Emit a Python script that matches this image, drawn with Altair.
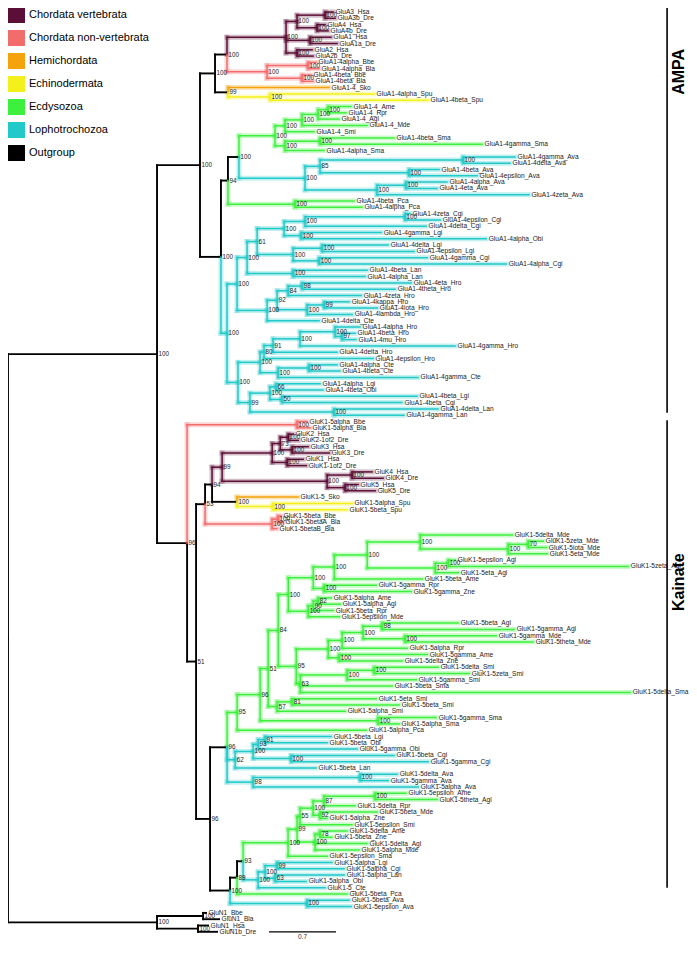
import re
import altair as alt
import pandas as pd

# ---------------- tree data: Newick pieces (branch lengths in substitutions/site, node labels = bootstrap) ----
AMPA_CHORDATA = ("((((GluA3_Hsa:0.084,GluA3b_Dre:0.105)100:0.293,(GluA4_Hsa:0.084,GluA4b_Dre:0.115)100:0.209)100:0.115,"
                 "(GluA1_Hsa:0.219,GluA1a_Dre:0.282)100:0.251,(GluA2_Hsa:0.157,GluA2b_Dre:0.167)100:0.115)100:0.617,"
                 "((GluA1-4alpha_Bbe:0.084,GluA1-4alpha_Bla:0.115)100:0.428,(GluA1-4beta_Bbe:0.094,GluA1-4beta_Bla:0.115)100:0.366)100:0.418)100:0.125")
AMPA_AMBULACRARIA = "(GluA1-4_Sko:1.055,(GluA1-4alpha_Spu:1.087,GluA1-4beta_Spu:1.651)100:0.439)99:0.136"
AMPA_ECDY = ("(((((GluA1-4_Ame:0.240,GluA1-4_Rpr:0.188)100:0.105,GluA1-4_Agl:0.219)100:0.167,GluA1-4_Mde:0.679)100:0.178,GluA1-4_Smi:0.303)100:0.105,"
             "((GluA1-4beta_Sma:0.773,GluA1-4gamma_Sma:1.693)100:0.366,GluA1-4alpha_Sma:0.408)100:0.105)100:0.376")
AMPA_AVA = ("(((GluA1-4gamma_Ava:0.543,GluA1-4delta_Ava:0.491)100:1.494,(GluA1-4beta_Ava:0.314,GluA1-4epsilon_Ava:0.711)100:0.930)85:0.157,"
            "((GluA1-4alpha_Ava:0.428,GluA1-4eta_Ava:0.324)100:0.303,GluA1-4zeta_Ava:1.588)100:0.752)100:0.690")
AMPA_PCA = "(GluA1-4beta_Pca:0.617,GluA1-4alpha_Pca:0.700)100:0.700"
AMPA_LOPHO_A = ("((((((GluA1-4zeta_Cgi:0.052,GluA1-4epsilon_Cgi:0.366)100:1.045,GluA1-4delta_Cgi:1.264)100:0.219,"
                "(GluA1-4gamma_Lgi:0.836,GluA1-4alpha_Obi:1.933)100:0.178)100:0.282,"
                "((GluA1-4delta_Lgi:0.690,GluA1-4epsilon_Lgi:0.961)100:0.303,(GluA1-4gamma_Cgi:1.129,GluA1-4alpha_Cgi:1.954)100:0.272)100:0.376)61:0.105,"
                "(GluA1-4beta_Lan:0.773,GluA1-4alpha_Lan:0.752)100:0.481)100:0.105,"
                "((((GluA1-4eta_Hro:1.139,GluA1-4theta_Hro:0.972)98:0.146,GluA1-4zeta_Hro:0.763)84:0.115,"
                "((GluA1-4kappa_Hro:0.261,GluA1-4iota_Hro:0.554)99:0.178,GluA1-4lambda_Hro:0.470)100:0.314)92:0.105,GluA1-4delta_Cte:0.543)100:0.314)100:0.105")
AMPA_LOPHO_B = ("((((((GluA1-4alpha_Hro:0.261,(GluA1-4beta_Hro:0.136,GluA1-4mu_Hro:0.146)97:0.073)100:0.366,GluA1-4gamma_Hro:1.620)100:0.282,"
                "GluA1-4delta_Hro:0.669)91:0.094,GluA1-4epsilon_Hro:1.139)80:0.042,"
                "((GluA1-4alpha_Cte:0.293,GluA1-4beta_Cte:0.324)100:0.324,GluA1-4gamma_Cte:1.463)100:0.188)100:0.230,"
                "(((GluA1-4alpha_Lgi:0.460,GluA1-4beta_Obi:0.491)66:0.063,(GluA1-4beta_Lgi:1.411,GluA1-4beta_Cgi:1.254)50:0.125)100:0.209,"
                "(GluA1-4delta_Lan:1.087,GluA1-4gamma_Lan:0.731)100:0.878)99:0.125)100:0.115")

KAIN_AMPHI_A = "(GluK1-5alpha_Bbe:0.105,GluK1-5alpha_Bla:0.136)100:1.149"
KAIN_VERT = ("((((GluK2_Hsa:0.052,GluK2-1of2_Dre:0.105)100:0.084,(GluK3_Hsa:0.167,GluK3_Dre:0.387)100:0.125)73:0.084,"
             "(GluK1_Hsa:0.167,GluK1-1of2_Dre:0.199)100:0.157)100:0.523,"
             "((GluK4_Hsa:0.209,GluK4_Dre:0.324)100:0.261,(GluK5_Hsa:0.136,GluK5_Dre:0.314)100:0.188)100:1.097)99:0.105")
KAIN_AMBULACRARIA = "(GluK1-5_Sko:0.637,(GluK1-5alpha_Spu:0.826,GluK1-5beta_Spu:0.773)100:0.376)100:0.261"
KAIN_AMPHI_B = "((GluK1-5beta_Bbe:0.031,GluK1-5betaA_Bla:0.052)100:0.063,GluK1-5betaB_Bla:0.052)100:0.700"
KAIN_ECDY_A = ("((((GluK1-5delta_Mde:0.961,((GluK1-5zeta_Mde:0.157,GluK1-5iota_Mde:0.188)70:0.209,GluK1-5eta_Mde:0.408)100:0.920)100:0.554,"
               "((GluK1-5epsilon_Agl:0.073,GluK1-5zeta_Agl:1.881)100:0.136,GluK1-5eta_Agl:0.240)100:0.711)100:0.345,GluK1-5beta_Ame:0.920)100:0.219,"
               "(GluK1-5gamma_Rpr:0.543,GluK1-5gamma_Zne:0.909)100:0.115)100:0.261")
KAIN_ECDY_B = "(((GluK1-5alpha_Ame:0.136,GluK1-5alpha_Agl:0.230)82:0.052,GluK1-5beta_Rpr:0.209)90:0.052,GluK1-5epsilon_Mde:0.324)100:0.209"
KAIN_ECDY_C = ("(((((GluK1-5beta_Agl:0.794,GluK1-5gamma_Agl:1.379)98:0.199,(GluK1-5gamma_Mde:0.951,GluK1-5theta_Mde:1.338)100:0.439)100:0.219,"
               "GluK1-5alpha_Rpr:0.679)100:0.146,(GluK1-5gamma_Ame:0.920,GluK1-5delta_Zne:0.658)100:0.115)100:0.334,"
               "(((GluK1-5delta_Smi:0.669,GluK1-5zeta_Smi:0.993)100:0.282,GluK1-5gamma_Smi:0.721)100:0.491,"
               "GluK1-5beta_Sma:0.961,GluK1-5delta_Sma:3.448)63:0.042)95:0.188")
KAIN_ECDY_D = "((GluK1-5eta_Smi:0.878,GluK1-5beta_Smi:1.118)81:0.157,GluK1-5alpha_Smi:0.711)57:0.094"
KAIN_ECDY_E = "(GluK1-5gamma_Sma:0.606,GluK1-5alpha_Sma:0.219)100:1.233"
KAIN_LOPHO_A = ("((((GluK1-5beta_Lgi:0.690,GluK1-5beta_Obi:0.648)91:0.073,GluK1-5gamma_Obi:1.035)93:0.052,"
                "(GluK1-5beta_Cgi:1.076,GluK1-5gamma_Cgi:1.432)100:0.397)100:0.188,GluK1-5beta_Lan:0.846)62:0.084")
KAIN_LOPHO_B = "((GluK1-5delta_Ava:0.387,GluK1-5gamma_Ava:0.293)100:1.118,GluK1-5alpha_Ava:1.724)98:0.272"
KAIN_ECDY_F = ("((((((GluK1-5epsilon_Ame:0.324,GluK1-5theta_Agl:0.648)100:0.533,GluK1-5delta_Rpr:0.324)87:0.115,"
               "(GluK1-5beta_Mde:0.596,GluK1-5alpha_Zne:0.073)92:0.073)100:0.136,GluK1-5epsilon_Smi:0.543)55:0.031,"
               "((GluK1-5delta_Ame:0.282,GluK1-5beta_Zne:0.125)78:0.052,GluK1-5delta_Agl:0.543,GluK1-5alpha_Mde:0.460)100:0.188)99:0.094,"
               "GluK1-5epsilon_Sma:0.408)100:0.470")
KAIN_LOPHO_C = ("(((GluK1-5alpha_Lgi:0.575,GluK1-5alpha_Cgi:0.700)99:0.125,(GluK1-5alpha_Lan:0.721,GluK1-5alpha_Obi:0.324)63:0.105)100:0.073,"
                "GluK1-5_Cte:0.700)100:0.157")
KAIN_PCA_B = "GluK1-5beta_Pca:1.149"
KAIN_AVA_B = "(GluK1-5beta_Ava:0.439,GluK1-5epsilon_Ava:0.460)100:0.805"
OUTGROUP = "((GluN1_Bbe:0.031,GluN1_Bla:0.167)100:0.481,(GluN1_Hsa:0.105,GluN1b_Dre:0.199)100:0.428)100:1.557"

AMPA = ("((" + AMPA_CHORDATA + "," + AMPA_AMBULACRARIA + ")100:0.157,"
        "(((" + AMPA_ECDY + "," + AMPA_AVA + ")100:0.115," + AMPA_PCA + ")94:0.073,"
        "(" + AMPA_LOPHO_A + "," + AMPA_LOPHO_B + ")100:0.063)100:0.219)100:0.449")
KAIN_53 = "((" + KAIN_VERT + "," + KAIN_AMBULACRARIA + ")94:0.073," + KAIN_AMPHI_B + ")53:0.094"
KAIN_96C = ("((((((" + KAIN_ECDY_A + "," + KAIN_ECDY_B + ")100:0.105," + KAIN_ECDY_C + ")84:0.105," + KAIN_ECDY_D + ")51:0.084,"
            + KAIN_ECDY_E + ")96:0.240,GluK1-5alpha_Pca:1.348)95:0.105," + KAIN_LOPHO_A + "," + KAIN_LOPHO_B + ")96:0.178")
KAIN_100D = "(((" + KAIN_ECDY_F + "," + KAIN_LOPHO_C + ")93:0.063," + KAIN_PCA_B + ")89:0.073," + KAIN_AVA_B + ")100:0.209"
KAINATE = "(" + KAIN_AMPHI_A + ",(" + KAIN_53 + ",(" + KAIN_96C + "," + KAIN_100D + ")96:0.146)51:0.094)96:0.314"
TREE = "((" + AMPA + "," + KAINATE + ")100:1.557," + OUTGROUP + ");"

GROUP_NAMES = ["Chordata vertebrata", "Chordata non-vertebrata", "Hemichordata", "Echinodermata",
               "Ecdysozoa", "Lophotrochozoa", "Outgroup"]
GROUP_COLORS = ["#5c0f36", "#f36c6c", "#f5a20c", "#f4f01c", "#3ef03e", "#22c9c9", "#000000"]
GROUP_SPECIES = [["Hsa", "Dre"], ["Bbe", "Bla"], ["Sko"], ["Spu"],
                 ["Ame", "Rpr", "Agl", "Mde", "Smi", "Sma", "Pca", "Zne"],
                 ["Ava", "Cgi", "Lgi", "Obi", "Lan", "Hro", "Cte"], []]
OUTGROUP_PREFIX = "GluN1"

CLADE_NAMES = ["AMPA", "Kainate"]
CLADE_FIRST = ["GluA3_Hsa", "GluK1-5alpha_Bbe"]
CLADE_LAST = ["GluA1-4gamma_Lan", "GluK1-5_Cte"]
CLADE_LABEL_ROW = [9.5, 90.5]
SCALE_BAR_LENGTH = 0.7

# ---------------- parse + layout ----------------
tokens = re.findall(r"[(),;:]|[^(),;:]+", re.sub(r"\s+", "", TREE))
pos = 0


def parse():
    global pos
    node = {"children": [], "name": "", "length": 0.0}
    if tokens[pos] == "(":
        pos += 1
        while True:
            node["children"].append(parse())
            t = tokens[pos]
            pos += 1
            if t == ")":
                break
    if tokens[pos] not in ("(", ")", ",", ";", ":"):
        node["name"] = tokens[pos]
        pos += 1
    if tokens[pos] == ":":
        node["length"] = float(tokens[pos + 1])
        pos += 2
    return node


root = parse()
leaves = []
species_group = {sp: g for g, sps in zip(GROUP_NAMES, GROUP_SPECIES) for sp in sps}


def layout(node, depth):
    node["x"] = depth
    if node["children"]:
        for c in node["children"]:
            layout(c, depth + c["length"])
        node["y"] = (node["children"][0]["y"] + node["children"][-1]["y"]) / 2
        gs = {c["group"] for c in node["children"]}
        node["group"] = gs.pop() if len(gs) == 1 else "Outgroup"
    else:
        node["y"] = len(leaves)
        leaves.append(node)
        if node["name"].startswith(OUTGROUP_PREFIX):
            node["group"] = "Outgroup"
        else:
            node["group"] = species_group[node["name"].split("_")[-1]]


layout(root, 0.0)

seg_rows, leaf_rows, sup_rows = [], [], []


def collect(node, parent):
    if parent is not None:
        seg_rows.append(dict(x=parent["x"], x2=node["x"], y=node["y"], y2=node["y"], group=node["group"]))
        seg_rows.append(dict(x=parent["x"], x2=parent["x"], y=parent["y"], y2=node["y"], group=node["group"]))
        if node["children"] and node["name"]:
            sup_rows.append(dict(x=node["x"], y=node["y"], label=node["name"]))
    if not node["children"]:
        leaf_rows.append(dict(x=node["x"], y=node["y"], name=node["name"], group=node["group"]))
    for c in node["children"]:
        collect(c, node)


collect(root, None)
seg = pd.DataFrame(seg_rows)
seg["order"] = (seg["group"] != "Outgroup").astype(int)
seg = seg.sort_values("order", kind="stable")
leaf_df = pd.DataFrame(leaf_rows)
sup_df = pd.DataFrame(sup_rows)
idx = {r["name"]: r["y"] for r in leaf_rows}

# ---------------- geometry of the page ----------------
PX_PER_UNIT = 67 / 0.7      # scale bar: 0.7 substitutions/site
ROW_PX = 6.3                # vertical spacing of tips
W, H = 681, 932
X_MIN = 0.0
Y_MIN = -4 / ROW_PX
xs = alt.Scale(domain=[X_MIN, X_MIN + W / PX_PER_UNIT], nice=False, zero=False)
ys = alt.Scale(domain=[Y_MIN, Y_MIN + H / ROW_PX], nice=False, zero=False, reverse=True)
cscale = alt.Scale(domain=GROUP_NAMES, range=GROUP_COLORS)

# annotation tables (clade brackets, scale bar, key)
BRACKET_DEPTH = 6.886
LABEL_DEPTH = 7.011
clade_df = pd.DataFrame({
    "clade": CLADE_NAMES,
    "y": [idx[CLADE_FIRST[0]] - 0.7, idx[CLADE_FIRST[1]] - 0.2],
    "y2": [idx[CLADE_LAST[0]] - 0.4, idx[CLADE_LAST[1]]],
    "ly": CLADE_LABEL_ROW,
    "x": [BRACKET_DEPTH] * 2,
    "lx": [LABEL_DEPTH] * 2,
})
bar_start = 2.727
scale_df = pd.DataFrame({"x": [bar_start], "x2": [bar_start + SCALE_BAR_LENGTH],
                         "y": [len(leaves) - 1.0], "ty": [len(leaves) + 0.25],
                         "label": [str(SCALE_BAR_LENGTH)]})
KEY_STEP = 23 / ROW_PX
KEY_TOP = 3 / ROW_PX
KEY_HALF = 8 / ROW_PX
key_df = pd.DataFrame({"group": GROUP_NAMES,
                       "row": [KEY_TOP + k * KEY_STEP for k in range(len(GROUP_NAMES))]})
key_df["y"] = key_df["row"] - KEY_HALF
key_df["y2"] = key_df["row"] + KEY_HALF
key_df["x"] = 0.0
key_df["x2"] = 17 / PX_PER_UNIT
key_df["tx"] = 21 / PX_PER_UNIT

X = lambda f="x": alt.X(f"{f}:Q", scale=xs, axis=None)
Y = lambda f="y": alt.Y(f"{f}:Q", scale=ys, axis=None)
FONT = "Liberation Sans"

halo = alt.Chart(seg).transform_filter("datum.group != 'Outgroup'").mark_rule(
    strokeWidth=5, opacity=0.28, strokeCap="square").encode(
    x=X(), x2="x2:Q", y=Y(), y2="y2:Q", color=alt.Color("group:N", scale=cscale, legend=None))

core = alt.Chart(seg).mark_rule(strokeCap="square").encode(
    x=X(), x2="x2:Q", y=Y(), y2="y2:Q",
    color=alt.Color("group:N", scale=cscale, legend=None),
    strokeWidth=alt.condition("datum.group == 'Outgroup'", alt.value(1.9), alt.value(1.5)))

key_rect = alt.Chart(key_df).mark_rect().encode(
    x=X(), x2="x2:Q", y=Y(), y2="y2:Q", color=alt.Color("group:N", scale=cscale, legend=None))
key_text = alt.Chart(key_df).mark_text(align="left", baseline="middle", fontSize=11, font=FONT,
                                       color="#000000").encode(x=X("tx"), y=Y("row"), text="group:N")

leaf_text = alt.Chart(leaf_df).mark_text(align="left", baseline="middle", dx=2.5, fontSize=6.6,
                                         font=FONT, color="#1a1a1a").encode(x=X(), y=Y(), text="name:N")
sup_text = alt.Chart(sup_df).mark_text(align="left", baseline="middle", dx=1.5, fontSize=6.3,
                                       font=FONT, color="#1a1a1a").encode(x=X(), y=Y(), text="label:N")

clade_rule = alt.Chart(clade_df).mark_rule(color="#000000", strokeWidth=1.6).encode(
    x=X(), y=Y(), y2="y2:Q")
clade_text = alt.Chart(clade_df).mark_text(angle=270, align="center", baseline="middle", fontSize=16,
                                           fontWeight="bold", font=FONT, color="#000000").encode(
    x=X("lx"), y=Y("ly"), text="clade:N")

sb_rule = alt.Chart(scale_df).mark_rule(color="#000000", strokeWidth=1.2).encode(x=X(), x2="x2:Q", y=Y())
sb_text = alt.Chart(scale_df).transform_calculate(xm="(datum.x + datum.x2) / 2").mark_text(
    align="center", baseline="bottom", fontSize=6.5, font=FONT, color="#333333").encode(
    x=X("xm"), y=Y("ty"), text="label:N")

chart = alt.layer(halo, core, key_rect, key_text, sup_text, leaf_text, clade_rule, clade_text,
                  sb_rule, sb_text).properties(
    width=W, height=H, padding={"left": 0, "top": 0, "right": 0, "bottom": 0},
    autosize=alt.AutoSizeParams(type="none"), background="white"
).configure_view(strokeWidth=0)

chart.save("out.html", embed_options={"renderer": "svg", "actions": False})
